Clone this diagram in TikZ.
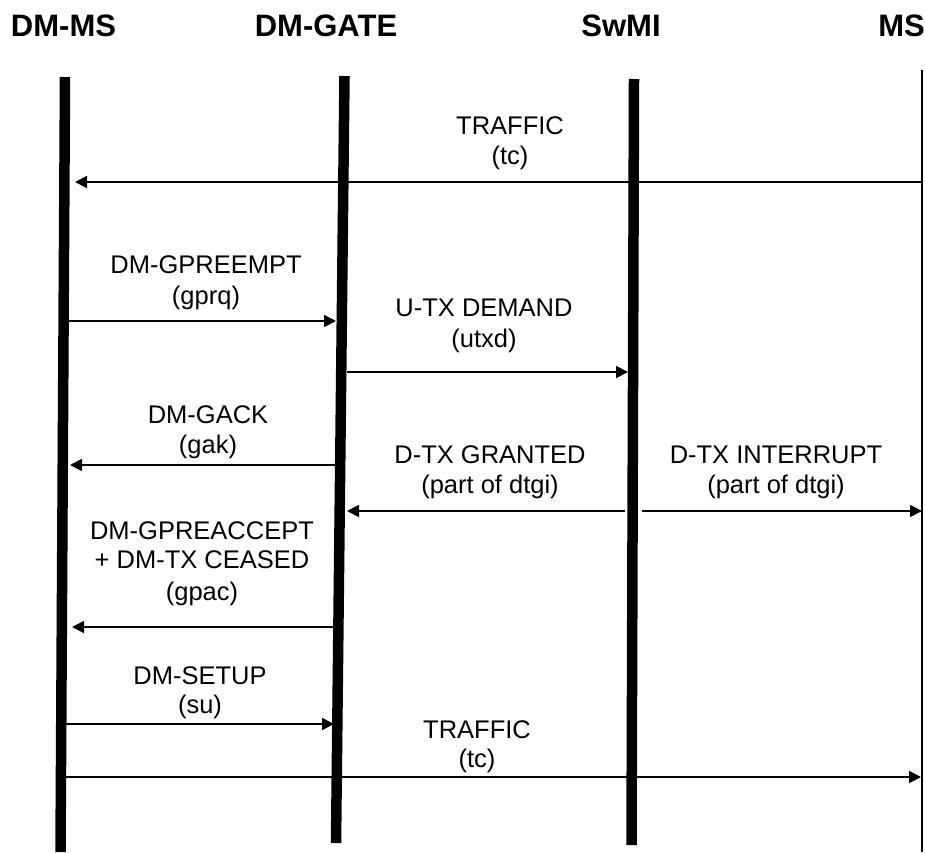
\documentclass[tikz,border=0pt]{standalone}
\usepackage{fontspec}
\setmainfont{Liberation Sans}
\usetikzlibrary{arrows.meta}
\begin{document}
\begin{tikzpicture}[x=1pt,y=-1pt,
  life/.style={line width=10.5pt},
  thinlife/.style={line width=2.2pt},
  msg/.style={line width=1.8pt,-{Triangle[length=12pt,width=12pt]}},
  lbl/.style={anchor=base,inner sep=0pt,font=\fontsize{25.5}{30}\selectfont},
  hdr/.style={anchor=base,inner sep=0pt,font=\fontsize{31}{36}\selectfont\bfseries}]
\useasboundingbox (0,0) rectangle (925,852);
% headers
\node[hdr] (hms) at (63.5,36) {DM-MS};
\node[hdr] (hgate) at (326,36) {DM-GATE};
\node[hdr] (hswmi) at (621,36) {SwMI};
\node[hdr,anchor=base east] (hms2) at (925,36) {MS};
% lifelines
\coordinate (msT) at (65,77);   \coordinate (msB) at (60.5,852);
\coordinate (gtT) at (344.5,76); \coordinate (gtB) at (336,843);
\coordinate (swT) at (634,79);  \coordinate (swB) at (631.5,845);
\coordinate (rmT) at (922,70);  \coordinate (rmB) at (922,852);
\draw[life] (msT) -- (msB);
\draw[life] (gtT) -- (gtB);
\draw[life] (swT) -- (swB);
\draw[thinlife] (rmT) -- (rmB);
% 1 TRAFFIC
\node[lbl] (l1a) at (510,134) {TRAFFIC};
\node[lbl] (l1b) at (510,164) {(tc)};
\coordinate (a1s) at (921,182); \coordinate (a1e) at (75,182);
\draw[msg] (a1s) -- (a1e);
% 2 DM-GPREEMPT
\node[lbl] (l2a) at (206,273) {DM-GPREEMPT};
\node[lbl] (l2b) at (206,304) {(gprq)};
\coordinate (a2s) at (69,321); \coordinate (a2e) at (336,321);
\draw[msg] (a2s) -- (a2e);
% 3 U-TX DEMAND
\node[lbl] (l3a) at (484,316) {U-TX DEMAND};
\node[lbl] (l3b) at (484,347) {(utxd)};
\coordinate (a3s) at (347,372); \coordinate (a3e) at (628,372);
\draw[msg] (a3s) -- (a3e);
% 4 DM-GACK
\node[lbl] (l4a) at (208,423) {DM-GACK};
\node[lbl] (l4b) at (208,453) {(gak)};
\coordinate (a4s) at (336,465); \coordinate (a4e) at (70,465);
\draw[msg] (a4s) -- (a4e);
% 5 D-TX GRANTED
\node[lbl] (l5a) at (490,463) {D-TX GRANTED};
\node[lbl] (l5b) at (490,493) {(part of dtgi)};
\coordinate (a5s) at (625,511); \coordinate (a5e) at (347,511);
\draw[msg] (a5s) -- (a5e);
% 6 D-TX INTERRUPT
\node[lbl] (l6a) at (776,463) {D-TX INTERRUPT};
\node[lbl] (l6b) at (776,493) {(part of dtgi)};
\coordinate (a6s) at (642,511); \coordinate (a6e) at (922,511);
\draw[msg] (a6s) -- (a6e);
% 7 DM-GPREACCEPT
\node[lbl] (l7a) at (202,539) {DM-GPREACCEPT};
\node[lbl] (l7b) at (202,568) {+ DM-TX CEASED};
\node[lbl] (l7c) at (202,600) {(gpac)};
\coordinate (a7s) at (335,627); \coordinate (a7e) at (72,627);
\draw[msg] (a7s) -- (a7e);
% 8 DM-SETUP
\node[lbl] (l8a) at (200,684) {DM-SETUP};
\node[lbl] (l8b) at (200,713) {(su)};
\coordinate (a8s) at (66,724); \coordinate (a8e) at (334,724);
\draw[msg] (a8s) -- (a8e);
% 9 TRAFFIC
\node[lbl] (l9a) at (477,738) {TRAFFIC};
\node[lbl] (l9b) at (477,767) {(tc)};
\coordinate (a9s) at (66,777); \coordinate (a9e) at (921,777);
\draw[msg] (a9s) -- (a9e);
\end{tikzpicture}
\end{document}
